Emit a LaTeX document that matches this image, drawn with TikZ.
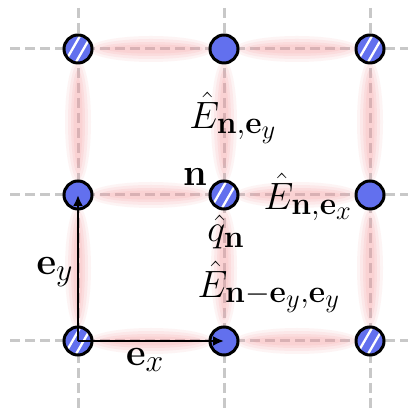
\documentclass[tikz,border=0pt]{standalone}
\usepackage{amsmath}
\usetikzlibrary{arrows.meta}
\definecolor{siteblue}{RGB}{98,112,238}
\definecolor{gridgray}{RGB}{200,200,200}
\definecolor{glowpink}{RGB}{245,150,155}
\newcommand{\labmath}[1]{\scalebox{1.53}{\Huge$#1$}}
\tikzset{
  x=1pt,y=1pt,
  site/.style={circle,draw=black,line width=3pt,fill=siteblue,minimum size=28pt,inner sep=0pt},
  hatched/.style={site,path picture={
     \foreach \d in {-4.8,4.8}{
       \draw[white,line width=2.3pt] ([shift={(-30:\d pt)}]path picture bounding box.center) ++(240:20pt) -- ++(60:40pt);}
  }},
  gridline/.style={gridgray,line width=3pt,dash pattern=on 10pt off 5pt},
  lab/.style={inner sep=0pt},
  vec/.style={line width=2.7pt,-{Latex[length=11pt,width=10pt]}},
}
\newcommand{\glowH}[2]{%
  \foreach \rx/\ry/\op in {62/13/0.10,58/10/0.12,52/7/0.14,44/4.5/0.14}{
    \fill[glowpink,opacity=\op] (#1,#2) ellipse [x radius=\rx pt,y radius=\ry pt];}}
\newcommand{\glowV}[2]{%
  \foreach \rx/\ry/\op in {62/13/0.10,58/10/0.12,52/7/0.14,44/4.5/0.14}{
    \fill[glowpink,opacity=\op] (#1,#2) ellipse [x radius=\ry pt,y radius=\rx pt];}}
\begin{document}
\begin{tikzpicture}
\useasboundingbox (0,0) rectangle (408,411);
\fill[white] (0,0) rectangle (408,411);
% grid lines
\foreach \y in {362,216,70} \draw[gridline] (10,\y) -- (408,\y);
\foreach \x in {78,224,370} \draw[gridline] (\x,403) -- (\x,0);
% glow
\foreach \y in {362,216,70}{\glowH{151}{\y}\glowH{297}{\y}}
\foreach \x in {78,224,370}{\glowV{\x}{289}\glowV{\x}{143}}
% sites
\node[hatched] (a00) at (78,362) {};
\node[site]    (a10) at (224,362) {};
\node[hatched] (a20) at (370,362) {};
\node[site]    (a01) at (78,216) {};
\node[hatched] (a11) at (224,216) {};
\node[site]    (a21) at (370,216) {};
\node[hatched] (a02) at (78,70) {};
\node[site]    (a12) at (224,70) {};
\node[hatched] (a22) at (370,70) {};
% vectors
\draw[vec] (a02.center) -- (a01.center);
\draw[vec] (a02.center) -- (a12.center);
% labels
\node[lab] (Ey) at (233,293) {\labmath{\hat{E}_{\mathbf{n},\mathbf{e}_y}}};
\node[lab] (nn) at (195,234) {\labmath{\mathbf{n}}};
\node[lab] (qn) at (226,179) {\labmath{\hat{q}_{\mathbf{n}}}};
\node[lab] (Ex) at (308,214) {\labmath{\hat{E}_{\mathbf{n},\mathbf{e}_x}}};
\node[lab] (Emy) at (269,124) {\labmath{\hat{E}_{\mathbf{n}-\mathbf{e}_y,\mathbf{e}_y}}};
\node[lab] (ey) at (55,139) {\labmath{\mathbf{e}_y}};
\node[lab] (ex) at (145,51) {\labmath{\mathbf{e}_x}};
\end{tikzpicture}
\end{document}
